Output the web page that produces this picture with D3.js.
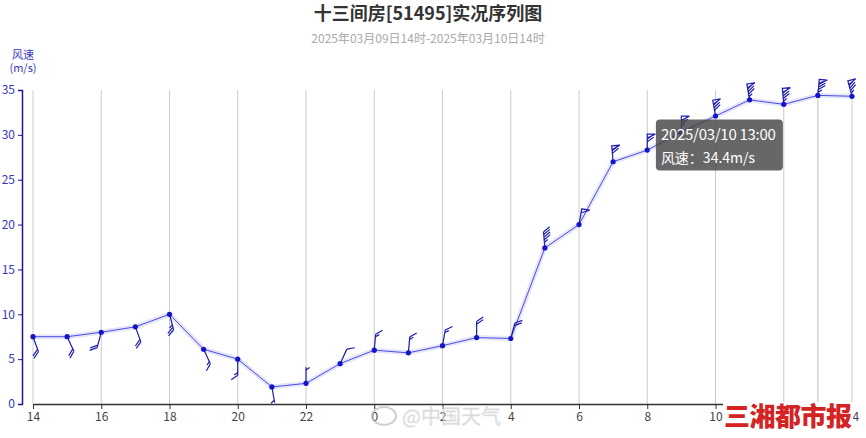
<!DOCTYPE html>
<html><head><meta charset="utf-8">
<script src="https://cdn.jsdelivr.net/npm/d3@7/dist/d3.min.js"></script>
<style>
body{margin:0;background:#fff;}
svg{display:block;font-family:"Noto Sans CJK SC","Noto Sans",sans-serif;}
</style>
</head><body>
<svg id="c" width="866" height="438"></svg>
<script>
// ---- data ----
const titleText = "十三间房[51495]实况序列图";
const subtitleText = "2025年03月09日14时-2025年03月10日14时";
const hourLabels = ["14","15","16","17","18","19","20","21","22","23","0","1","2","3","4","5","6","7","8","9","10","11","12","13","14"];
const timeLabels = ["2025/03/09 14:00","2025/03/09 15:00","2025/03/09 16:00","2025/03/09 17:00","2025/03/09 18:00","2025/03/09 19:00","2025/03/09 20:00","2025/03/09 21:00","2025/03/09 22:00","2025/03/09 23:00","2025/03/10 00:00","2025/03/10 01:00","2025/03/10 02:00","2025/03/10 03:00","2025/03/10 04:00","2025/03/10 05:00","2025/03/10 06:00","2025/03/10 07:00","2025/03/10 08:00","2025/03/10 09:00","2025/03/10 10:00","2025/03/10 11:00","2025/03/10 12:00","2025/03/10 13:00","2025/03/10 14:00"];
const windSpeed = [7.5,7.5,8.0,8.6,10.0,6.1,5.0,1.9,2.3,4.5,6.0,5.7,6.5,7.4,7.3,17.4,20.0,27.0,28.3,30.3,32.1,33.9,33.4,34.4,34.3];
const windDir = [160,155,195,160,165,155,180,170,0,25,5,5,10,0,15,355,10,355,0,0,350,350,355,5,345];
const xTickIdx = [0,2,4,6,8,10,12,14,16,18,20,22,24];
const yTicks = [0,5,10,15,20,25,30,35];
const yName = ["风速","(m/s)"];
const tooltipIdx = 23;
const watermarkA = "@中国天气";
const watermarkB = "三湘都市报";

// ---- chart ----
const svg = d3.select("#c");
const x = d3.scaleLinear().domain([0, 24]).range([33, 852]);
const y = d3.scaleLinear().domain([0, 35]).range([404, 90]);

svg.append("text").attr("x", 428).attr("y", 20).attr("text-anchor","middle")
  .attr("font-size", 18).attr("font-weight", "bold").attr("fill", "#333").text(titleText);
svg.append("text").attr("x", 428).attr("y", 43).attr("text-anchor","middle")
  .attr("font-size", 12).attr("fill", "#aaa").text(subtitleText);

// vertical grid lines
svg.append("g").selectAll("line").data(xTickIdx).join("line")
  .attr("x1", d => x(d)).attr("x2", d => x(d)).attr("y1", y(35)).attr("y2", y(0))
  .attr("stroke", "#ccc").attr("stroke-width", 1);
// tooltip axis pointer
svg.append("line").attr("x1", x(tooltipIdx)).attr("x2", x(tooltipIdx)).attr("y1", y(35)).attr("y2", y(0))
  .attr("stroke", "#bbb").attr("stroke-width", 1);

// y axis
const yAxis = svg.append("g").attr("transform", "translate(22,0)")
  .call(d3.axisLeft(y).tickValues(yTicks).tickSize(4).tickPadding(3));
yAxis.select(".domain").attr("stroke", "#1a1a8c").attr("stroke-width", 1.5);
yAxis.selectAll(".tick line").attr("stroke", "#1a1a8c");
yAxis.selectAll(".tick text").attr("fill", "#3838b8").attr("font-size", 12)
  .attr("font-family", '"Noto Sans CJK SC",sans-serif');
svg.append("text").attr("x", 23).attr("y", 59).attr("text-anchor","middle")
  .attr("font-size", 11).attr("fill", "#3838b8").text(yName[0]);
svg.append("text").attr("x", 23).attr("y", 72).attr("text-anchor","middle")
  .attr("font-size", 11).attr("fill", "#3838b8").text(yName[1]);

// x axis
const xAxis = svg.append("g").attr("transform", `translate(0,${y(0)})`)
  .call(d3.axisBottom(x).tickValues(xTickIdx).tickFormat(i => hourLabels[i]).tickSize(5).tickSizeOuter(0).tickPadding(3));
xAxis.select(".domain").attr("stroke", "#333").attr("stroke-width", 1.5);
xAxis.selectAll(".tick line").attr("stroke", "#333");
xAxis.selectAll(".tick text").attr("fill", "#444").attr("font-size", 12)
  .attr("font-family", '"Noto Sans CJK SC",sans-serif');

// line
const pts = windSpeed.map((v, i) => [x(i), y(v)]);
const lineGen = d3.line();
svg.append("path").attr("d", lineGen(pts)).attr("fill", "none")
  .attr("stroke", "#dcdcf6").attr("stroke-width", 5).attr("stroke-linejoin","round").attr("opacity", 0.7);
svg.append("path").attr("d", lineGen(pts)).attr("fill", "none")
  .attr("stroke", "#4b4be6").attr("stroke-width", 1);

// wind barbs
function barb(px, py, v, deg) {
  const L = 16, FL = 8, SP = 2.6, PW = 4;
  const t = deg * Math.PI / 180;
  const dx = Math.sin(t), dy = -Math.cos(t);
  const rx = Math.cos(t), ry = Math.sin(t);
  const a = 35 * Math.PI / 180;
  const fx = rx * Math.cos(a) + dx * Math.sin(a), fy = ry * Math.cos(a) + dy * Math.sin(a);
  const tx = px + L * dx, ty = py + L * dy;
  let p = `M${px},${py}L${tx},${ty}`;
  let n = Math.round(v / 2) * 2;
  const pen = Math.floor(n / 20); n -= pen * 20;
  const full = Math.floor(n / 4); n -= full * 4;
  const half = n >= 2 ? 1 : 0;
  let s = 0;
  for (let k = 0; k < pen; k++) {
    const x0 = tx - s * dx, y0 = ty - s * dy;
    const x1 = tx - (s + PW) * dx, y1 = ty - (s + PW) * dy;
    p += `M${x0},${y0}L${x0 + FL * rx},${y0 + FL * ry}L${x1},${y1}Z`;
    s += PW + 1;
  }
  for (let k = 0; k < full; k++) {
    const x0 = tx - s * dx, y0 = ty - s * dy;
    p += `M${x0},${y0}L${x0 + FL * fx},${y0 + FL * fy}`;
    s += SP;
  }
  if (half) {
    if (s === 0) s = SP;
    const x0 = tx - s * dx, y0 = ty - s * dy;
    p += `M${x0},${y0}L${x0 + FL * 0.55 * fx},${y0 + FL * 0.55 * fy}`;
  }
  return p;
}
svg.append("g").selectAll("path").data(windSpeed).join("path")
  .attr("d", (v, i) => barb(x(i), y(v), v, windDir[i]))
  .attr("fill", "none").attr("stroke", "#1c1cb0").attr("stroke-width", 1.2).attr("stroke-linejoin","miter");

// points
svg.append("g").selectAll("circle").data(windSpeed).join("circle")
  .attr("cx", (v, i) => x(i)).attr("cy", v => y(v)).attr("r", 2.6).attr("fill", "#1414c8");

// tooltip
const tx0 = x(tooltipIdx) - 162, ty0 = y(windSpeed[tooltipIdx]) + 24;
const tip = svg.append("g").attr("transform", `translate(${tx0},${ty0})`);
tip.append("rect").attr("width", 127).attr("height", 51).attr("rx", 4)
  .attr("fill", "rgba(70,70,70,0.82)");
tip.append("text").attr("x", 5).attr("y", 21).attr("font-size", 15).attr("fill", "#fff")
  .attr("textLength", 115).text(timeLabels[tooltipIdx]);
tip.append("text").attr("x", 5).attr("y", 44).attr("font-size", 14).attr("fill", "#fff")
  .text("风速：" + windSpeed[tooltipIdx] + "m/s");

// watermarks
const wm = svg.append("g").attr("opacity", 0.7);
wm.append("ellipse").attr("cx", 384).attr("cy", 416).attr("rx", 12).attr("ry", 9)
  .attr("fill", "none").attr("stroke", "#bbb").attr("stroke-width", 2);
wm.append("text").attr("x", 402).attr("y", 424).attr("font-size", 20).attr("fill", "#c4c4c4")
  .attr("stroke", "#e0e0e0").attr("stroke-width", 0.6).text(watermarkA);
svg.append("rect").attr("x", 723).attr("y", 402).attr("width", 130).attr("height", 28).attr("fill", "#fff");
svg.append("text").attr("x", 788).attr("y", 426).attr("text-anchor","middle").attr("font-size", 26)
  .attr("font-weight", 900).attr("fill", "#d42323").attr("textLength", 128).text(watermarkB);
</script>
</body></html>
